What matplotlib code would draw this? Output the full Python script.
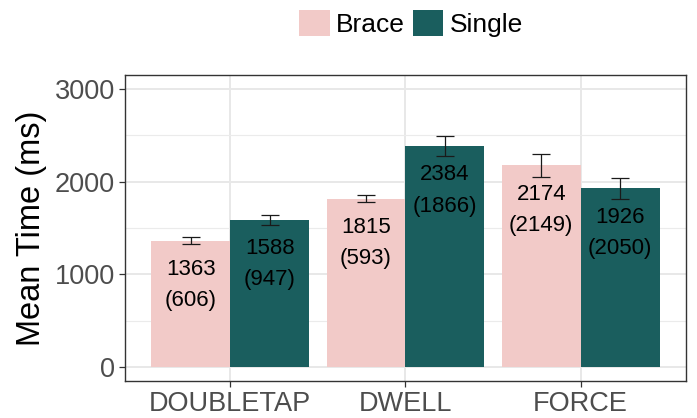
import matplotlib.pyplot as plt
import numpy as np
from matplotlib.patches import Patch

plt.rcParams['font.family'] = ['Liberation Sans', 'DejaVu Sans']

categories = ["DOUBLETAP", "DWELL", "FORCE"]
groups = ["Brace", "Single"]
means = {"Brace": [1363, 1815, 2174], "Single": [1588, 2384, 1926]}
sds = {"Brace": [606, 593, 2149], "Single": [947, 1866, 2050]}
errs = {"Brace": [38, 36, 123], "Single": [55, 105, 113]}
colors = {"Brace": "#F2CAC8", "Single": "#1A5E5E"}

fig = plt.figure(figsize=(6.97, 4.18), dpi=100)
ax = fig.add_axes([0.1793, 0.0885, 0.8047, 0.7321])

x = np.arange(1, len(categories) + 1)
width = 0.45
for i, g in enumerate(groups):
    pos = x + (i - 0.5) * width
    ax.bar(pos, means[g], width=width, color=colors[g], zorder=2)
    ax.errorbar(pos, means[g], yerr=errs[g], fmt='none', ecolor='#1a1a1a',
                elinewidth=0.9, capsize=6.5, capthick=0.9, zorder=3)
    for p, m, s in zip(pos, means[g], sds[g]):
        ax.annotate("%d\n(%d)" % (m, s), (p, m), xytext=(0, -32),
                    textcoords='offset points', ha='center', va='center',
                    fontsize=16, linespacing=1.65, color='black', zorder=4)

ax.set_xlim(0.4, 3.6)
ax.set_ylim(-150, 3150)
ax.set_xticks(x)
ax.set_xticklabels(categories)
ax.set_yticks([0, 1000, 2000, 3000])
ax.set_yticks([500, 1500, 2500], minor=True)
ax.tick_params(axis='both', which='major', labelsize=19.5, labelcolor='#4D4D4D',
               color='#333333', length=4, width=0.9, pad=3)
ax.tick_params(axis='y', which='minor', length=0)
ax.grid(True, which='major', color='#E8E8E8', linewidth=1.4, zorder=0)
ax.grid(True, which='minor', axis='y', color='#EBEBEB', linewidth=0.8, zorder=0)
ax.set_axisbelow(True)
for sp in ax.spines.values():
    sp.set_color('#333333')
    sp.set_linewidth(1.0)

ax.set_ylabel("Mean Time (ms)", fontsize=23.5, color='black', labelpad=6)

handles = [Patch(facecolor=colors[g], edgecolor='none', label=g) for g in groups]
fig.legend(handles=handles, loc='center', bbox_to_anchor=(0.59, 0.943),
           ncol=2, frameon=False, fontsize=19, handlelength=1.15,
           handleheight=1.15, handletextpad=0.25, columnspacing=0.3,
           borderpad=0)

fig.savefig("out.png", dpi=100)
